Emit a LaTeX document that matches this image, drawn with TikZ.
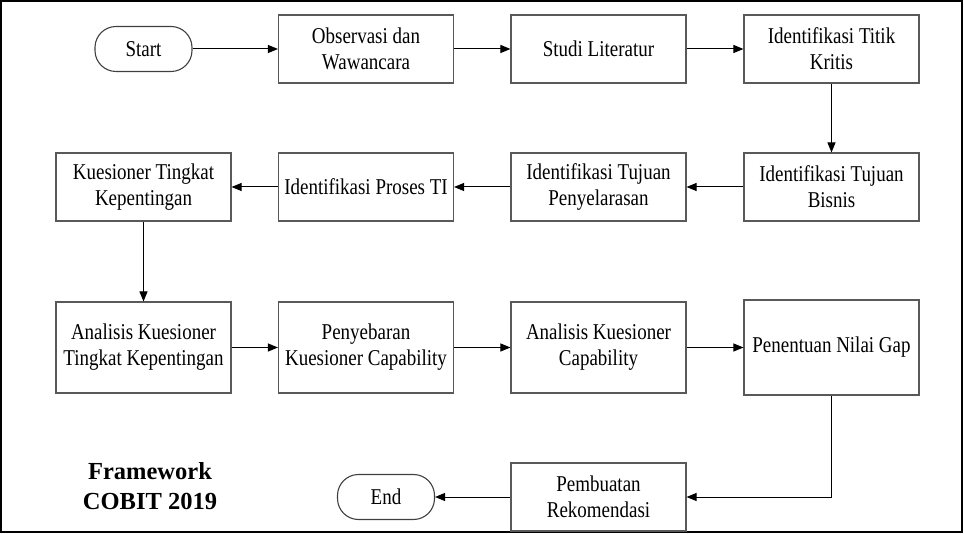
\documentclass[tikz,border=0pt]{standalone}
\usepackage{fontspec}
\setmainfont{Liberation Serif}[FakeStretch=0.84]
\newfontfamily\boldserif{Liberation Serif}
\usetikzlibrary{arrows.meta,positioning}
\begin{document}
\begin{tikzpicture}[x=1pt,y=-1pt,
  box/.style={draw=black!65, line width=1.1pt, minimum width=175pt, minimum height=68pt,
    inner sep=2pt, align=center, font=\fontsize{22.6}{26}\selectfont},
  term/.style={draw=black!75, line width=1.1pt, rounded corners=21pt, minimum width=97pt,
    minimum height=45pt, inner sep=2pt, align=center, font=\fontsize{22.6}{26}\selectfont},
  arr/.style={draw=black, line width=1pt, -{Triangle[length=10pt,width=8pt]}},
  lbl/.style={align=center, font=\boldserif\bfseries\fontsize{24.5}{30}\selectfont}]
\useasboundingbox (0,0) rectangle (964,534);
\draw[line width=2pt] (1,1) rectangle (962,532);

\node[term] (start) at (143.5,49) {Start};
\node[box] (obs) at (366,49) {Observasi dan\\Wawancara};
\node[box] (studi) at (598.5,49) {Studi Literatur};
\node[box] (titik) at (831.5,49) {Identifikasi Titik\\Kritis};

\node[box] (kues) at (143.5,187) {Kuesioner Tingkat\\Kepentingan};
\node[box] (proses) at (366,187) {Identifikasi Proses TI};
\node[box] (penyel) at (598.5,187) {Identifikasi Tujuan\\Penyelarasan};
\node[box] (bisnis) at (831.5,187) {Identifikasi Tujuan\\Bisnis};

\node[box, minimum height=91pt] (anatk) at (143.5,347.5) {Analisis Kuesioner\\Tingkat Kepentingan};
\node[box, minimum height=91pt] (sebar) at (366,347.5) {Penyebaran\\Kuesioner Capability};
\node[box, minimum height=91pt] (anacap) at (598.5,347.5) {Analisis Kuesioner\\Capability};
\node[box, minimum height=95pt] (gap) at (831.5,347.5) {Penentuan Nilai Gap};

\node[box] (buat) at (598.5,497) {Pembuatan\\Rekomendasi};
\node[term] (end) at (386,497) {End};

\node[lbl] (fw) at (150,486) {Framework\\COBIT 2019};

\draw[arr] (start) -- (obs);
\draw[arr] (obs) -- (studi);
\draw[arr] (studi) -- (titik);
\draw[arr] (titik) -- (bisnis);
\draw[arr] (bisnis) -- (penyel);
\draw[arr] (penyel) -- (proses);
\draw[arr] (proses) -- (kues);
\draw[arr] (kues) -- (anatk);
\draw[arr] (anatk) -- (sebar);
\draw[arr] (sebar) -- (anacap);
\draw[arr] (anacap) -- (gap);
\draw[arr] (gap.south) |- (buat.east);
\draw[arr] (buat) -- (end);
\end{tikzpicture}
\end{document}
